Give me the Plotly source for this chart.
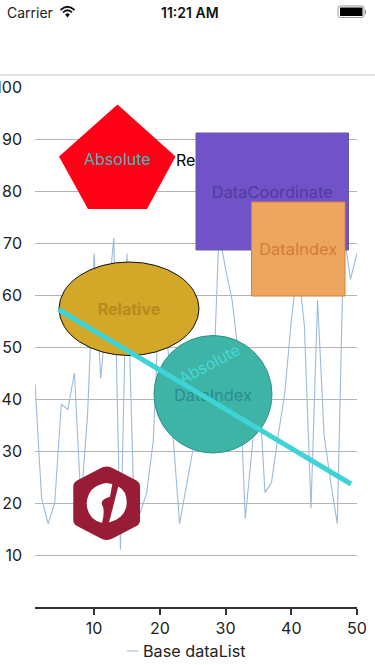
import plotly.graph_objects as go

W, H = 375, 665
L, R, T, B = 35, 18, 87, 58
FONT = "Inter"

# Series values (values behind shapes are estimates)
x_values = list(range(1, 51))
base_data = [43, 21, 16, 20, 39, 38, 45, 20, 37, 68,
             44, 58, 71, 11, 68, 22, 18, 22, 32, 62,
             55, 33, 16, 23, 30, 35, 42, 38, 72, 65,
             59, 48, 17, 30, 44, 22, 24, 33, 41, 55,
             66, 54, 19, 59, 33, 24, 16, 72, 63, 68]
series_name = "Base dataList"
x_ticks = [10, 20, 30, 40, 50]
y_ticks = [10, 20, 30, 40, 50, 60, 70, 80, 90, 100]

X0, X1 = 1, 50
Y0, Y1 = 0, 100
PW, PH = W - L - R, H - T - B


def dx(px):
    return X0 + (px - L) / PW * (X1 - X0)


def dy(py):
    return Y1 - (py - T) / PH * (Y1 - Y0)


def ax(px):
    return (px - L) / PW


def ay(py):
    return 1 - (py - T) / PH


def data_path(cmds):
    out = []
    for c in cmds:
        if c[0] == "Z":
            out.append("Z")
        else:
            nums = c[1:]
            pairs = " ".join(f"{dx(nums[i]):.4f},{dy(nums[i+1]):.4f}" for i in range(0, len(nums), 2))
            out.append(f"{c[0]} {pairs}")
    return " ".join(out)


def paper_path(cmds):
    out = []
    for c in cmds:
        if c[0] == "Z":
            out.append("Z")
        else:
            nums = c[1:]
            pairs = " ".join(f"{ax(nums[i]):.4f},{ay(nums[i+1]):.4f}" for i in range(0, len(nums), 2))
            out.append(f"{c[0]} {pairs}")
    return " ".join(out)


fig = go.Figure()
fig.add_trace(go.Scatter(
    x=x_values, y=base_data, mode="lines", name=series_name,
    line=dict(color="#9dbbdb", width=1.1), hoverinfo="skip", showlegend=False,
))
fig.add_trace(go.Scatter(
    x=[dx(176)], y=[dy(162)], mode="text", text=["Relative"], textposition="middle right",
    textfont=dict(family=FONT, size=16, color="#000000"), hoverinfo="skip", showlegend=False,
))

shapes = []


def lbl(text, color, weight="normal", size=16.4):
    return dict(text=text, font=dict(family=FONT, size=size, color=color, weight=weight),
                textposition="middle center")


# pentagon
shapes.append(dict(type="path", xref="x", yref="y", layer="above",
                   path=data_path([("M", 117.5, 104.5), ("L", 175.5, 156.5), ("L", 147, 209),
                                   ("L", 88, 209), ("L", 59, 156.5), ("Z",)]),
                   fillcolor="#ff0016", line=dict(width=0)))
# purple rect
shapes.append(dict(type="rect", xref="x", yref="y", layer="above",
                   x0=dx(196), x1=dx(348.5), y0=dy(250), y1=dy(133),
                   fillcolor="#7052c9", line=dict(color="#6a5a9e", width=1),
                   label=lbl("DataCoordinate", "#54399f")))
# orange rect
shapes.append(dict(type="rect", xref="x", yref="y", layer="above",
                   x0=dx(251.5), x1=dx(345), y0=dy(296), y1=dy(202),
                   fillcolor="#eca660", line=dict(color="#d9803c", width=1),
                   label=lbl("DataIndex", "#d17c3a")))
# ellipse
shapes.append(dict(type="circle", xref="x", yref="y", layer="above",
                   x0=dx(59), x1=dx(199), y0=dy(355.5), y1=dy(262),
                   fillcolor="#d3a727", line=dict(color="#111111", width=1),
                   label=lbl("Relative", "#b88a1e", "bold", 16)))
# circle
shapes.append(dict(type="circle", xref="x", yref="y", layer="above",
                   x0=dx(154), x1=dx(272), y0=dy(453), y1=dy(335.5),
                   fillcolor="#3eb4a6", line=dict(color="#2f918c", width=1),
                   label=lbl("DataIndex", "#2c8c92")))
# diagonal line
shapes.append(dict(type="line", xref="x", yref="y", layer="above",
                   x0=dx(58.5), y0=dy(309.5), x1=dx(351), y1=dy(484),
                   line=dict(color="#3ed3d6", width=5)))
# hexagon logo
hx = [("M", 100, 468.5), ("Q", 106.7, 464.5, 113.4, 468.5), ("L", 136.5, 480.5),
      ("Q", 140, 482.5, 140, 486.5), ("L", 140, 520), ("Q", 140, 524, 136.5, 526),
      ("L", 113.4, 538), ("Q", 106.7, 542, 100, 538), ("L", 77, 526),
      ("Q", 73.3, 524, 73.3, 520), ("L", 73.3, 486.5), ("Q", 73.3, 482.5, 77, 480.5), ("Z",)]
shapes.append(dict(type="path", xref="x", yref="y", layer="above", path=data_path(hx),
                   fillcolor="#981c36", line=dict(width=0)))
wr = [("M", 112.3, 484), ("L", 110, 496.7), ("Q", 101, 499, 101.7, 504), ("Q", 105.5, 510, 102, 523),
      ("Q", 87, 519, 86.7, 503), ("Q", 88, 486, 106, 483), ("Z",)]
wr2 = [("M", 118.3, 486.5), ("Q", 127, 491, 126.7, 503), ("Q", 126, 518, 109, 522.5), ("Z",)]
shapes.append(dict(type="path", xref="x", yref="y", layer="above", path=data_path(wr),
                   fillcolor="#ffffff", line=dict(width=0)))
shapes.append(dict(type="path", xref="x", yref="y", layer="above", path=data_path(wr2),
                   fillcolor="#ffffff", line=dict(width=0)))

# top separator
shapes.append(dict(type="line", xref="paper", yref="paper", x0=ax(0), x1=ax(W), y0=ay(75), y1=ay(75),
                   line=dict(color="#d9d9d9", width=1.5), layer="above"))
# legend sample
shapes.append(dict(type="line", xref="paper", yref="paper", x0=ax(127), x1=ax(138), y0=ay(651), y1=ay(651),
                   line=dict(color="#a9c3df", width=1.2), layer="above"))
# battery
shapes.append(dict(type="path", xref="paper", yref="paper", layer="above",
                   path=paper_path([("M", 340, 6), ("L", 362, 6), ("Q", 364, 6, 364, 8), ("L", 364, 15),
                                    ("Q", 364, 17.5, 362, 17.5), ("L", 340, 17.5), ("Q", 338, 17.5, 338, 15),
                                    ("L", 338, 8), ("Q", 338, 6, 340, 6), ("Z",)]),
                   fillcolor="rgba(0,0,0,0)", line=dict(color="#9a9a9a", width=1)))
shapes.append(dict(type="rect", xref="paper", yref="paper", layer="above",
                   x0=ax(340), x1=ax(362.5), y0=ay(16), y1=ay(7.5), fillcolor="#000000", line=dict(width=0)))
shapes.append(dict(type="rect", xref="paper", yref="paper", layer="above",
                   x0=ax(365), x1=ax(366), y0=ay(14), y1=ay(10), fillcolor="#8a8a8a", line=dict(width=0)))
# wifi
for cmds in ([("M", 60.5, 10), ("Q", 67.5, 3.5, 74.5, 10)],
             [("M", 63, 12.5), ("Q", 67.5, 8, 72, 12.5)]):
    shapes.append(dict(type="path", xref="paper", yref="paper", layer="above", path=paper_path(cmds),
                       fillcolor="rgba(0,0,0,0)", line=dict(color="#111111", width=1.8)))
shapes.append(dict(type="path", xref="paper", yref="paper", layer="above",
                   path=paper_path([("M", 65, 14.5), ("Q", 67.5, 12, 70, 14.5), ("L", 67.5, 17.5), ("Z",)]),
                   fillcolor="#111111", line=dict(width=0)))


def note(text, px, py, size=16, color="#222222", anchor="center", angle=0, weight="normal"):
    return dict(text=text, xref="paper", yref="paper", x=ax(px), y=ay(py), showarrow=False,
                xanchor=anchor, yanchor="middle", textangle=angle,
                font=dict(family=FONT, size=size, color=color, weight=weight))


annotations = [
    note("Absolute", 117.5, 159, color="#3cbcb8"),
    note("Absolute", 209, 364, color="#45d8d8", angle=-28),
    note(series_name, 141, 651, size=16.2, color="#222222", anchor="left"),
    note("Carrier", 5, 12, size=14, color="#222222", anchor="left"),
    note("11:21 AM", 190, 12, size=14, color="#111111", weight=600),
]

fig.update_layout(
    template=None,
    width=W, height=H, autosize=False,
    margin=dict(l=L, r=R, t=T, b=B, pad=0),
    paper_bgcolor="#ffffff", plot_bgcolor="#ffffff",
    showlegend=False, shapes=shapes, annotations=annotations,
    font=dict(family=FONT, size=16, color="#222222"),
    xaxis=dict(range=[X0, X1], tickmode="array", tickvals=x_ticks, ticks="outside", ticklen=6,
               tickwidth=1.5, tickcolor="#333333", showgrid=False, zeroline=False, automargin=False,
               showline=True, linecolor="#333333", linewidth=1.5, tickfont=dict(family=FONT, size=16, color="#222222")),
    yaxis=dict(range=[Y0, Y1], tickmode="array", tickvals=y_ticks, ticks="", showgrid=True, automargin=False,
               gridcolor="#b4b4b4", gridwidth=1, zeroline=False, showline=False,
               ticklabelstandoff=12, tickfont=dict(family=FONT, size=16, color="#222222")),
)
fig.write_html("out.html", config=dict(displayModeBar=False),
               post_script="document.body.style.margin='0';document.documentElement.style.overflow='hidden';")
